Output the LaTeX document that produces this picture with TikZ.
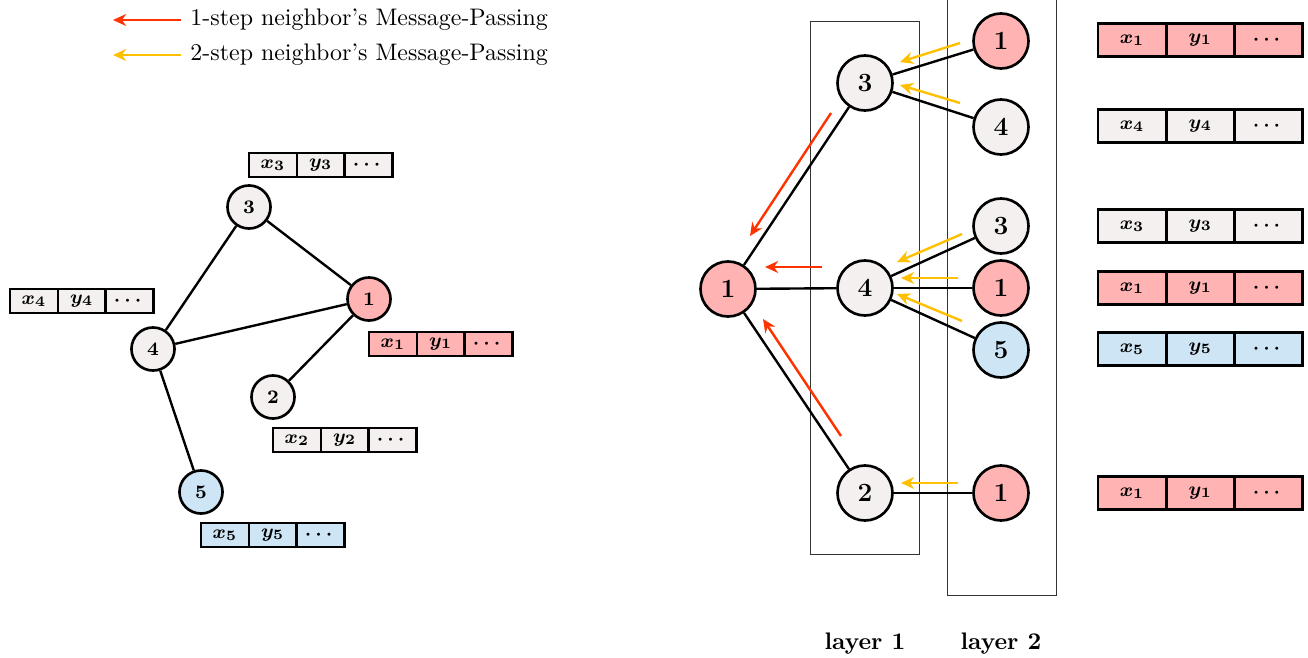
\documentclass[tikz,border=0pt]{standalone}
\usepackage{amsmath}
\usetikzlibrary{arrows.meta}
\definecolor{nred}{RGB}{255,179,179}
\definecolor{ngray}{RGB}{245,240,240}
\definecolor{nblue}{RGB}{205,229,245}
\definecolor{ared}{RGB}{255,51,0}
\definecolor{ayel}{RGB}{255,192,0}
\newcommand\featrow[5]{%
  \node[#5, fill=#3, anchor=west] (#1a) at #2 {$x_{#4}$};
  \node[#5, fill=#3, anchor=west] (#1b) at (#1a.east) {$y_{#4}$};
  \node[#5, fill=#3, anchor=west] (#1c) at (#1b.east) {$\cdots$};
}
\begin{document}
\begin{tikzpicture}[x=0.418pt,y=-0.418pt,
  sn/.style={circle,draw,line width=1.1pt,minimum size=18pt,inner sep=0pt,font=\footnotesize\bfseries},
  bn/.style={circle,draw,line width=1.1pt,minimum size=23pt,inner sep=0pt,font=\fontsize{11}{13}\selectfont\bfseries},
  sc/.style={draw,line width=1.1pt,minimum width=20pt,minimum height=10pt,inner sep=0pt,outer sep=0pt,font=\footnotesize\boldmath},
  bc/.style={draw,line width=1.1pt,minimum width=28.5pt,minimum height=14pt,inner sep=0pt,outer sep=0pt,font=\footnotesize\boldmath},
  edge/.style={line width=1pt},
  one/.style={ared,line width=1pt,-{Stealth[length=5.5pt,width=5pt]}},
  two/.style={ayel,line width=1pt,-{Stealth[length=5.5pt,width=5pt]}},
  layerbox/.style={draw=black!80,line width=0.4pt},
  lab/.style={font=\bfseries}]
\useasboundingbox (0,0) rectangle (1308,657);

% legend
\coordinate (lg1s) at (181,20); \coordinate (lg1e) at (113,20);
\coordinate (lg2s) at (181,55); \coordinate (lg2e) at (113,55);
\draw[one] (lg1s) -- (lg1e);
\draw[two] (lg2s) -- (lg2e);
\node[anchor=west,inner sep=0pt] (lgt1) at (190,20) {1-step neighbor's Message-Passing};
\node[anchor=west,inner sep=0pt] (lgt2) at (190,55) {2-step neighbor's Message-Passing};

% left graph
\node[sn,fill=ngray] (g3) at (249,207) {3};
\node[sn,fill=nred]  (g1) at (369,299) {1};
\node[sn,fill=ngray] (g4) at (153,349) {4};
\node[sn,fill=ngray] (g2) at (273,397) {2};
\node[sn,fill=nblue] (g5) at (201,492) {5};
\draw[edge] (g3) -- (g1);
\draw[edge] (g3) -- (g4);
\draw[edge] (g4) -- (g1);
\draw[edge] (g1) -- (g2);
\draw[edge] (g4) -- (g5);

\featrow{f3}{(249,165)}{ngray}{3}{sc}
\featrow{f4}{(10,301)}{ngray}{4}{sc}
\featrow{f1}{(369,344)}{nred}{1}{sc}
\featrow{f2}{(273,440)}{ngray}{2}{sc}
\featrow{f5}{(201,535)}{nblue}{5}{sc}

% layer frames
\draw[layerbox] (810,21) rectangle (919,554);
\draw[layerbox] (947,-2) -- (947,595) -- (1056,595) -- (1056,-2);
\node[lab] (lay1) at (865,644) {layer 1};
\node[lab] (lay2) at (1001,644) {layer 2};

% right tree
\node[bn,fill=nred]  (r1) at (728,289) {1};
\node[bn,fill=ngray] (m3) at (865,83) {3};
\node[bn,fill=ngray] (m4) at (865,288) {4};
\node[bn,fill=ngray] (m2) at (865,493) {2};
\node[bn,fill=nred]  (a1) at (1001,41) {1};
\node[bn,fill=ngray] (a4) at (1001,127) {4};
\node[bn,fill=ngray] (a3) at (1001,226) {3};
\node[bn,fill=nred]  (a1b) at (1001,288) {1};
\node[bn,fill=nblue] (a5) at (1001,350) {5};
\node[bn,fill=nred]  (a1c) at (1001,493) {1};
\draw[edge] (r1) -- (m3);
\draw[edge] (r1) -- (m4);
\draw[edge] (r1) -- (m2);
\draw[edge] (m3) -- (a1);
\draw[edge] (m3) -- (a4);
\draw[edge] (m4) -- (a3);
\draw[edge] (m4) -- (a1b);
\draw[edge] (m4) -- (a5);
\draw[edge] (m2) -- (a1c);

% message-passing arrows
\coordinate (o1s) at (831,113); \coordinate (o1e) at (750,236);
\coordinate (o2s) at (822,267); \coordinate (o2e) at (765,267);
\coordinate (o3s) at (841,436); \coordinate (o3e) at (763,319);
\draw[one] (o1s) -- (o1e);
\draw[one] (o2s) -- (o2e);
\draw[one] (o3s) -- (o3e);
\coordinate (t1s) at (960,43);  \coordinate (t1e) at (900,62);
\coordinate (t2s) at (960,103); \coordinate (t2e) at (900,85);
\coordinate (t3s) at (962,234); \coordinate (t3e) at (897,262);
\coordinate (t4s) at (958,278); \coordinate (t4e) at (901,278);
\coordinate (t5s) at (962,321); \coordinate (t5e) at (897,294);
\coordinate (t6s) at (958,483); \coordinate (t6e) at (901,483);
\draw[two] (t1s) -- (t1e);
\draw[two] (t2s) -- (t2e);
\draw[two] (t3s) -- (t3e);
\draw[two] (t4s) -- (t4e);
\draw[two] (t5s) -- (t5e);
\draw[two] (t6s) -- (t6e);

% right feature rows
\featrow{h1}{(1098,40)}{nred}{1}{bc}
\featrow{h4}{(1098,126)}{ngray}{4}{bc}
\featrow{h3}{(1098,226)}{ngray}{3}{bc}
\featrow{h1b}{(1098,288)}{nred}{1}{bc}
\featrow{h5}{(1098,349)}{nblue}{5}{bc}
\featrow{h1c}{(1098,493)}{nred}{1}{bc}
\end{tikzpicture}
\end{document}
